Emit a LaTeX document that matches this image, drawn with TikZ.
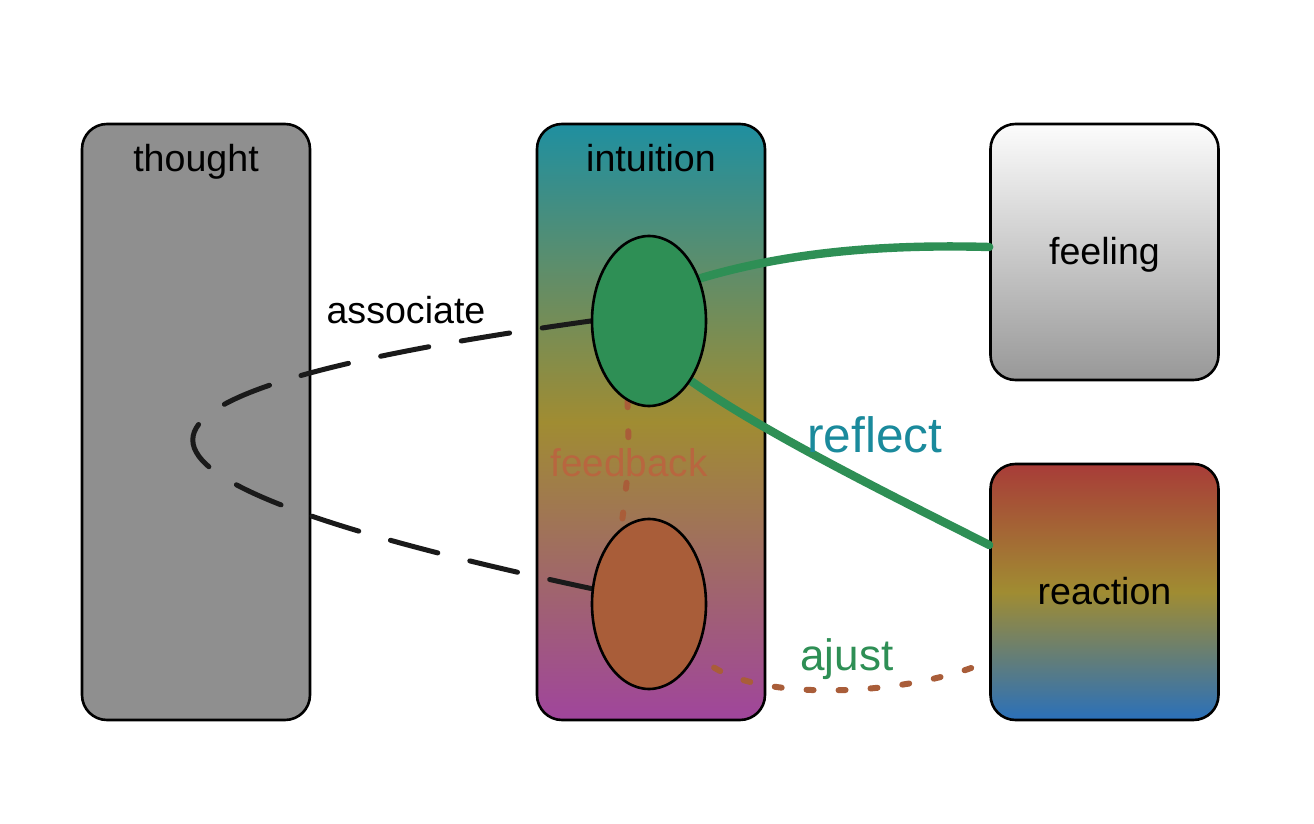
\documentclass[tikz,border=0pt]{standalone}
\usepackage{fontspec}
\setmainfont{Liberation Sans}
\usetikzlibrary{shapes.geometric,calc}

\definecolor{thoughtgray}{HTML}{8F8F8F}
\definecolor{linkgreen}{HTML}{2E8F55}
\definecolor{linkorange}{HTML}{A95D39}
\definecolor{linkdark}{HTML}{1A1A1A}
\definecolor{reflectteal}{HTML}{1A8A9C}
\definecolor{feedbacktxt}{HTML}{B8663F}

\pgfdeclarelayer{boxes}
\pgfdeclarelayer{links}
\pgfsetlayers{boxes,links,main}

\tikzset{
  box/.style={draw=black, line width=1.3pt, rounded corners=12.5pt,
    minimum width=114pt, inner sep=0pt},
  tallbox/.style={box, minimum height=298pt},
  shortbox/.style={box, minimum height=128pt},
  idea/.style={ellipse, draw=black, line width=1.3pt, minimum width=57pt,
    minimum height=85pt, inner sep=0pt},
  title/.style={anchor=base, inner sep=0pt},
  strong/.style={linkgreen, line width=4.2pt, line cap=round},
  dotted line/.style={linkorange, line width=3pt, line cap=round},
}

\begin{document}
\begin{tikzpicture}[x=0.5pt, y=-0.5pt, font=\fontsize{18.8}{22}\selectfont]

  \useasboundingbox (0,0) rectangle (1314,824);

  % Boxes
  \begin{pgfonlayer}{boxes}
    \fill[white] (0,0) rectangle (1314,824);
    \node[tallbox, fill=thoughtgray] (thought) at (196,422) {};
    \node[tallbox, top color={rgb,255:red,31;green,143;blue,160},
      bottom color={rgb,255:red,160;green,69;blue,156},
      middle color={rgb,255:red,160;green,140;blue,50}] (intuition) at (651,422) {};
    \node[shortbox, top color={rgb,255:red,252;green,252;blue,252},
      bottom color={rgb,255:red,152;green,152;blue,152}] (feeling) at (1104.5,252) {};
    \node[shortbox, top color={rgb,255:red,168;green,60;blue,56},
      bottom color={rgb,255:red,42;green,112;blue,186},
      middle color={rgb,255:red,160;green,140;blue,50}] (reaction) at (1104.5,592) {};
  \end{pgfonlayer}

  % Box titles
  \node[title] at ($(thought.north)+(0,49)$) {thought};
  \node[title] at ($(intuition.north)+(0,49)$) {intuition};
  \node[title] at ($(feeling.center)+(0,12)$) {feeling};
  \node[title] at ($(reaction.center)+(0,12)$) {reaction};

  % Ideas inside intuition
  \node[idea, fill=linkgreen] (green) at (649,321) {};
  \node[idea, fill=linkorange] (orange) at (649,604) {};

  % Edge labels
  \node[title] at (406,323) {associate};
  \node[title, text=reflectteal, font=\fontsize{24.8}{28}\selectfont] at (875,452) {reflect};
  \node[title, text=linkgreen, font=\fontsize{22}{26}\selectfont] at (847,670) {ajust};
  \node[anchor=base, inner sep=3pt, text=feedbacktxt, font=\fontsize{19.3}{23}\selectfont] (fb) at (629,476) {feedback};

  % Links
  \begin{pgfonlayer}{links}
    \draw[linkdark, line width=2.5pt, line cap=round,
      dash pattern=on 24.5pt off 16.5pt]
      (green.west) .. controls (60,395) and (60,475) .. (orange.165);
    \draw[strong] (green.40) .. controls (785,253) and (880,244) .. ($(feeling.west)+(0,-5)$);
    \draw[strong] (green.-55) .. controls (760,430) and (880,490) .. ($(reaction.west)+(0,-47)$);
    \draw[dotted line, dash pattern=on 3pt off 12pt] (green.-105) -- (fb);
    \draw[dotted line, dash pattern=on 3pt off 12pt] (fb) -- (orange.110);
    \draw[dotted line, dash pattern=on 3.5pt off 12.5pt]
      ($(reaction.west)+(-18,76)$) .. controls (880,700) and (730,700) .. (orange.-45);
  \end{pgfonlayer}

\end{tikzpicture}
\end{document}
